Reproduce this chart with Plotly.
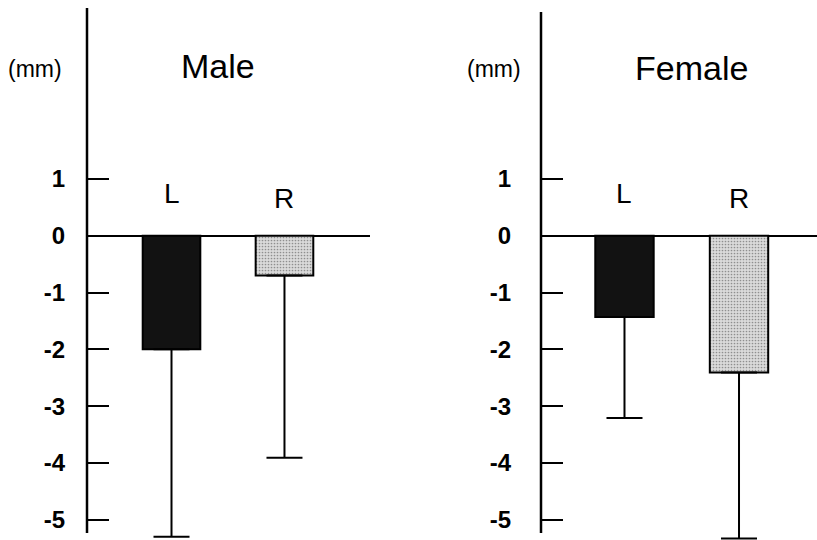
import plotly.graph_objects as go

# ---- data ----
sides = ["L", "R"]
male_mean = [-2.0, -0.70]
male_sd = [3.30, 3.21]
female_mean = [-1.43, -2.41]
female_sd = [1.78, 2.92]
y_ticks = [1, 0, -1, -2, -3, -4, -5]
panel_titles = ["Male", "Female"]
unit_label = "(mm)"

FONT = "Liberation Sans, Arial, sans-serif"
bar_colors = ["#121212", "#dadada"]
xpos = [0, 1]

fig = go.Figure()

for i, (means, sds) in enumerate([(male_mean, male_sd), (female_mean, female_sd)]):
    xa = "x" if i == 0 else "x2"
    ya = "y" if i == 0 else "y2"
    fig.add_trace(go.Bar(
        x=xpos, y=means, xaxis=xa, yaxis=ya,
        width=0.51,
        marker=dict(color=bar_colors, line=dict(color="black", width=2),
                    pattern=dict(shape=["", "."], fgcolor="#9a9a9a", size=3, solidity=0.25)),
        error_y=dict(type="data", symmetric=False, array=[0, 0], arrayminus=sds,
                     color="black", thickness=2, width=18),
        cliponaxis=False, showlegend=False, hoverinfo="skip",
    ))

W, H = 817, 540
male_x0, male_x1 = 87, 370
fem_x0, fem_x1 = 541, 817
unit = 56.8
zero_px = 235.7

def px2val(p):
    return (zero_px - p) / unit

common_y = dict(tickmode="array", tickvals=y_ticks, ticktext=[str(v) for v in y_ticks],
                ticks="inside", ticklen=22, tickwidth=2, tickcolor="black",
                showline=False,
                zeroline=True, zerolinecolor="black", zerolinewidth=2,
                showgrid=False, tickfont=dict(family=FONT, size=24, color="black", weight="bold"))
common_x = dict(showgrid=False, zeroline=False, showline=False, showticklabels=False, ticks="")

fig.update_layout(
    width=W, height=H, margin=dict(l=0, r=0, t=0, b=0),
    paper_bgcolor="white", plot_bgcolor="white",
    xaxis=dict(domain=[male_x0 / W, male_x1 / W], range=[-0.748, 1.757], anchor="y", **common_x),
    xaxis2=dict(domain=[fem_x0 / W, fem_x1 / W], range=[-0.729, 1.681], anchor="y2", **common_x),
    yaxis=dict(domain=[0, 1 - 8 / H], range=[px2val(H), px2val(8)], anchor="x",
               ticklabelstandoff=21, **common_y),
    yaxis2=dict(domain=[0, 1 - 12 / H], range=[px2val(H), px2val(12)], anchor="x2",
                ticklabelstandoff=29, **common_y),
)

# vertical axis lines (stop just below the -5 tick, as in the original)
axis_tops = [8, 12]
for i in range(2):
    xr = "x domain" if i == 0 else "x2 domain"
    yr = "y" if i == 0 else "y2"
    fig.add_shape(type="line", xref=xr, yref=yr, x0=0, x1=0,
                  y0=px2val(533), y1=px2val(axis_tops[i]),
                  line=dict(color="black", width=2.5))

ann = []
title_x = [218 / W, 691.5 / W]
title_y = [66, 67.5]
unit_x = [35 / W, 494 / W]
for i in range(2):
    ann.append(dict(text=panel_titles[i], x=title_x[i], y=1 - title_y[i] / H, xref="paper", yref="paper",
                    xanchor="center", yanchor="middle",
                    showarrow=False, font=dict(family=FONT, size=34, color="black")))
    ann.append(dict(text=unit_label, x=unit_x[i], y=1 - 69 / H, xref="paper", yref="paper",
                    xanchor="center", yanchor="middle",
                    showarrow=False, font=dict(family=FONT, size=23, color="black")))
    xr = "x" if i == 0 else "x2"
    yr = "y" if i == 0 else "y2"
    label_y = [0.75, 0.66]
    for j, s in enumerate(sides):
        ann.append(dict(text=s, x=xpos[j], y=label_y[j], xref=xr, yref=yr, showarrow=False,
                        xanchor="center", yanchor="middle",
                        font=dict(family=FONT, size=28, color="black")))
fig.update_layout(annotations=ann)

fig.write_html("out.html", config={"displayModeBar": False},
               post_script="document.body.style.margin='0';document.body.style.padding='0';")
